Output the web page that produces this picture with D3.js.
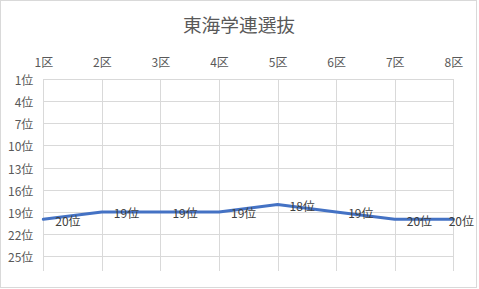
<!DOCTYPE html>
<html>
<head>
<meta charset="utf-8">
<script src="https://cdn.jsdelivr.net/npm/d3@7"></script>
<style>
  html, body { margin: 0; padding: 0; background: #fff; }
  svg { display: block; font-family: "Noto Sans CJK JP", "Noto Sans", sans-serif; }
</style>
</head>
<body>
<svg id="chart" width="479" height="289"></svg>
<script>
// Chart data
const title = "東海学連選抜";
const sections = ["1区", "2区", "3区", "4区", "5区", "6区", "7区", "8区"];
const ranks = [20, 19, 19, 19, 18, 19, 20, 20];
const rankTicks = [1, 4, 7, 10, 13, 16, 19, 22, 25];
const rankDomain = [1, 27];

const W = 479, H = 289;
const plot = { left: 43.3, right: 453.3, top: 79, bottom: 271 };

const svg = d3.select("#chart");

// Outer chart border
svg.append("rect")
  .attr("x", 0.5).attr("y", 0.5)
  .attr("width", W - 3).attr("height", H - 2)
  .attr("fill", "#fff").attr("stroke", "#d9d9d9").attr("stroke-width", 1);

// Title
svg.append("text")
  .attr("x", 239).attr("y", 23)
  .attr("text-anchor", "middle").attr("dominant-baseline", "central")
  .attr("font-size", 18.7).attr("fill", "#595959")
  .text(title);

const x = d3.scalePoint().domain(sections).range([plot.left, plot.right]);
// Rank axis reversed: 1st place at the top
const y = d3.scaleLinear().domain(rankDomain).range([plot.top, plot.bottom]);

// Horizontal gridlines
svg.append("g")
  .selectAll("line").data(rankTicks).join("line")
  .attr("x1", plot.left).attr("x2", plot.right)
  .attr("y1", d => Math.round(y(d)) + 0.5).attr("y2", d => Math.round(y(d)) + 0.5)
  .attr("stroke", "#d9d9d9").attr("stroke-width", 1);

// Vertical gridlines at each section
svg.append("g")
  .selectAll("line").data(sections).join("line")
  .attr("x1", d => Math.round(x(d)) + 0.5).attr("x2", d => Math.round(x(d)) + 0.5)
  .attr("y1", plot.top).attr("y2", plot.bottom)
  .attr("stroke", "#d9d9d9").attr("stroke-width", 1);

// Section axis along the top
const xAxis = svg.append("g")
  .attr("transform", `translate(0,${plot.top - 18})`)
  .call(d3.axisTop(x).tickSize(0).tickPadding(0));
xAxis.select(".domain").remove();
xAxis.selectAll("text")
  .attr("font-size", 12).attr("fill", "#595959")
  .attr("font-family", "\"Noto Sans CJK JP\", sans-serif")
  .attr("dy", null).attr("dominant-baseline", "central");

// Rank axis on the left
const yAxis = svg.append("g")
  .attr("transform", `translate(${plot.left - 10},0)`)
  .call(d3.axisLeft(y).tickValues(rankTicks).tickFormat(d => d + "位").tickSize(0).tickPadding(0));
yAxis.select(".domain").remove();
yAxis.selectAll("text")
  .attr("font-size", 12).attr("fill", "#595959")
  .attr("font-family", "\"Noto Sans CJK JP\", sans-serif")
  .attr("dy", null).attr("dominant-baseline", "central");

// Rank line
const pts = sections.map((s, i) => ({ s, r: ranks[i] }));
svg.append("path")
  .datum(pts)
  .attr("fill", "none")
  .attr("stroke", "#4472c4")
  .attr("stroke-width", 3)
  .attr("stroke-linejoin", "round")
  .attr("stroke-linecap", "round")
  .attr("d", d3.line().x(d => x(d.s)).y(d => y(d.r)));

// Value labels to the right of each point, kept inside the chart area
const labels = svg.append("g")
  .selectAll("text").data(pts).join("text")
  .attr("font-size", 12).attr("fill", "#404040")
  .attr("dominant-baseline", "central")
  .attr("y", d => y(d.r) + 1)
  .text(d => d.r + "位");
labels.each(function(d) {
  const w = this.getComputedTextLength();
  const lx = Math.min(x(d.s) + 12, W - 5 - w);
  d3.select(this).attr("x", lx);
});
</script>
</body>
</html>
